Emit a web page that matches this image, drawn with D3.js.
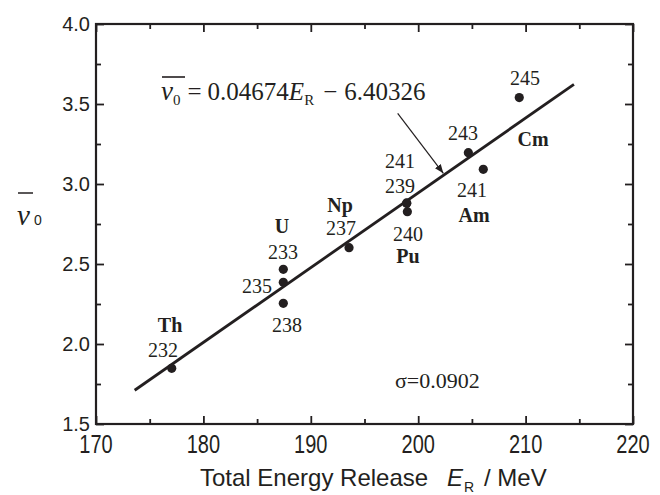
<!DOCTYPE html>
<html><head><meta charset="utf-8">
<script src="https://cdn.jsdelivr.net/npm/d3@7"></script>
<style>
body{margin:0;background:#fff}
svg{display:block}
</style></head>
<body>
<svg id="chart" width="660" height="495"></svg>
<script>
// ---- data ----
const isotopes = ["Th232","U233","U235","U238","Np237","Pu239","Pu241","Pu240","Am241","Cm243","Cm245"];
const energyRelease = [177.05,187.44,187.44,187.44,193.56,198.93,198.93,198.99,206.06,204.67,209.41];
const nuBar = [1.848,2.467,2.386,2.254,2.602,2.879,2.882,2.827,3.092,3.196,3.540];
const fitSlope = 0.04674, fitIntercept = -6.40326;
const fitRange = [173.6, 214.5];
const xTicks = [170,180,190,200,210,220];
const xMinor = [175,185,195,205,215];
const yTicks = [1.5,2.0,2.5,3.0,3.5,4.0];
const yMinor = [1.75,2.25,2.75,3.25,3.75];
const xTickLabels = ["170","180","190","200","210","220"];
const yTickLabels = ["1.5","2.0","2.5","3.0","3.5","4.0"];
// labels: text, E, nu (anchor = centre/baseline), bold?
const labelText = ["Th","232","U","233","235","238","Np","237","241","239","240","Pu","243","Cm","241","Am","245"];
const labelE    = [176.9,176.24,187.32,187.41,184.99,187.78,192.72,192.81,198.31,198.31,199.05,199.05,204.17,210.69,205.01,205.2,209.94];
const labelNu   = [2.077,1.919,2.694,2.531,2.319,2.075,2.827,2.681,3.10,2.944,2.646,2.508,3.275,3.2375,2.919,2.764,3.619];
const labelBold = [1,0,1,0,0,0,1,0,0,0,0,1,0,1,0,1,0];
const arrowFrom = [198.09, 3.442], arrowTo = [202.34, 3.067];
const sigmaText = "σ=0.0902", sigmaPos = [197.84, 1.725];

const ink = "#231f20";
const serif = "Liberation Serif, Times New Roman, serif";
const sans = "Liberation Sans, Arial, sans-serif";
const svg = d3.select("#chart");
const x = d3.scaleLinear().domain([170,220]).range([96,633]);
const y = d3.scaleLinear().domain([1.5,4.0]).range([424,24]);

// ticks (inward on all sides)
function tickAxis(axisFn, scale, vals, size, tr){
  const g = svg.append("g").attr("transform", tr)
    .call(axisFn(scale).tickValues(vals).tickSize(-size).tickFormat(""));
  g.select(".domain").remove();
  g.selectAll("line").attr("stroke", ink).attr("stroke-width", 1.8);
}
tickAxis(d3.axisBottom, x, xTicks, 8, "translate(0,424)");
tickAxis(d3.axisBottom, x, xMinor, 5, "translate(0,424)");
tickAxis(d3.axisTop, x, xTicks, 8, "translate(0,24)");
tickAxis(d3.axisTop, x, xMinor, 5, "translate(0,24)");
tickAxis(d3.axisLeft, y, yTicks, 8, "translate(96,0)");
tickAxis(d3.axisLeft, y, yMinor, 5, "translate(96,0)");
tickAxis(d3.axisRight, y, yTicks, 8, "translate(633,0)");
tickAxis(d3.axisRight, y, yMinor, 5, "translate(633,0)");

// frame
svg.append("rect").attr("x", x(170)).attr("y", y(4)).attr("width", x(220)-x(170)).attr("height", y(1.5)-y(4))
  .attr("fill","none").attr("stroke", ink).attr("stroke-width", 2.2);

// tick labels
svg.append("g").selectAll("text").data(xTicks).join("text")
  .attr("transform", d => `translate(${x(d)},453) scale(0.8,1)`)
  .attr("text-anchor","middle").attr("font-family", sans)
  .attr("font-size", 25).attr("fill", ink)
  .text((d,i) => xTickLabels[i]);
svg.append("g").selectAll("text").data(yTicks).join("text")
  .attr("x", 90).attr("y", d => y(d) + 7)
  .attr("text-anchor","end").attr("font-family", sans)
  .attr("font-size", 20).attr("fill", ink)
  .text((d,i) => yTickLabels[i]);

// x axis title
svg.append("text").attr("x", 200).attr("y", 486).attr("font-family", sans).attr("font-size", 24).attr("fill", ink)
  .text("Total Energy Release");
svg.append("text").attr("x", 447).attr("y", 486).attr("font-family", sans).attr("font-size", 24)
  .attr("font-style","italic").attr("fill", ink).text("E");
svg.append("text").attr("x", 464).attr("y", 492).attr("font-family", sans).attr("font-size", 14).attr("fill", ink).text("R");
svg.append("text").attr("x", 484).attr("y", 486).attr("font-family", sans).attr("font-size", 24).attr("fill", ink).text("/ MeV");

// y axis title
svg.append("text").attr("x", 17).attr("y", 225).attr("font-family", serif).attr("font-style","italic")
  .attr("font-size", 29).attr("fill", ink).text("ν");
svg.append("text").attr("x", 34).attr("y", 225).attr("font-family", sans).attr("font-size", 14).attr("fill", ink).text("0");
svg.append("line").attr("x1", 18).attr("x2", 33).attr("y1", 193).attr("y2", 193).attr("stroke", ink).attr("stroke-width", 1.5);

// fit line
svg.append("line")
  .attr("x1", x(fitRange[0])).attr("y1", y(fitSlope*fitRange[0]+fitIntercept))
  .attr("x2", x(fitRange[1])).attr("y2", y(fitSlope*fitRange[1]+fitIntercept))
  .attr("stroke", ink).attr("stroke-width", 2.8);

// points
svg.append("g").selectAll("circle").data(isotopes).join("circle")
  .attr("cx", (d,i) => x(energyRelease[i])).attr("cy", (d,i) => y(nuBar[i]))
  .attr("r", 4.6).attr("fill", ink);

// labels
svg.append("g").selectAll("text").data(labelText).join("text")
  .attr("x", (d,i) => x(labelE[i])).attr("y", (d,i) => y(labelNu[i]))
  .attr("text-anchor","middle").attr("font-family", serif)
  .attr("font-size", 20).attr("font-weight", (d,i) => labelBold[i] ? "bold" : "normal")
  .attr("fill", ink).text(d => d);

// equation
const eq = svg.append("text").attr("x", 161).attr("y", 100)
  .attr("font-family", serif).attr("font-size", 25).attr("fill", ink);
eq.append("tspan").attr("font-style","italic").attr("font-size", 27).text("ν");
eq.append("tspan").attr("font-size", 15).attr("dy", 5).text("0");
eq.append("tspan").attr("dy", -5).attr("dx", 7).text("=");
eq.append("tspan").attr("dx", 6).text("0.04674");
eq.append("tspan").attr("font-style","italic").text("E");
eq.append("tspan").attr("font-size", 15).attr("dy", 5).text("R");
eq.append("tspan").attr("dy", -5).attr("dx", 9).text("−");
eq.append("tspan").attr("dx", 7).text("6.40326");
svg.append("line").attr("x1", 162).attr("x2", 185).attr("y1", 77).attr("y2", 77).attr("stroke", ink).attr("stroke-width", 1.6);

// arrow
svg.append("defs").append("marker").attr("id","ah").attr("viewBox","0 0 10 10")
  .attr("refX", 10).attr("refY", 5).attr("markerWidth", 9).attr("markerHeight", 9)
  .attr("markerUnits","userSpaceOnUse").attr("orient","auto")
  .append("path").attr("d","M0,1 L10,5 L0,9 Z").attr("fill", ink);
svg.append("line")
  .attr("x1", x(arrowFrom[0])).attr("y1", y(arrowFrom[1]))
  .attr("x2", x(arrowTo[0])).attr("y2", y(arrowTo[1]))
  .attr("stroke", ink).attr("stroke-width", 1.2).attr("marker-end","url(#ah)");

// sigma
svg.append("text").attr("x", x(sigmaPos[0])).attr("y", y(sigmaPos[1]))
  .attr("font-family", serif).attr("font-size", 22)
  .attr("fill", ink).text(sigmaText);
</script>
</body></html>
